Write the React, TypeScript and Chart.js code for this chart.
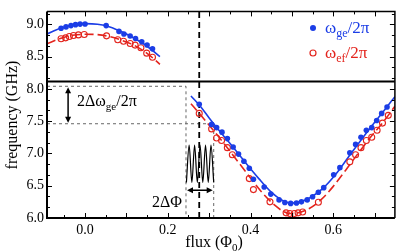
import React, { useEffect, useRef } from "react";
import { Chart, registerables } from "chart.js";
Chart.register(...registerables);

const BLUE = "#1b3de6";
const RED = "#e3241d";
const SERIF = "'Liberation Serif', 'Times New Roman', serif";

// ---- measured data: omega_ge / 2pi (filled blue circles)
const geFlux = [
  -0.058, -0.046, -0.034, -0.023, -0.012, 0.0, 0.051, 0.082, 0.094, 0.109, 0.122, 0.137, 0.15, 0.163,
  0.276, 0.306, 0.318, 0.331, 0.344, 0.358, 0.371, 0.384, 0.397, 0.407, 0.433, 0.449, 0.469, 0.483,
  0.497, 0.511, 0.523, 0.537, 0.55, 0.564, 0.577, 0.601, 0.616, 0.64, 0.654, 0.667, 0.68, 0.693,
  0.705, 0.717, 0.73,
];
const geFreq = [
  8.94, 8.96, 8.98, 8.995, 9.003, 9.006, 8.98, 8.89, 8.85, 8.82, 8.78, 8.73, 8.68, 8.62,
  7.76, 7.45, 7.4, 7.33, 7.23, 7.1, 6.99, 6.88, 6.77, 6.6, 6.48, 6.37, 6.28, 6.24,
  6.226, 6.232, 6.25, 6.28, 6.33, 6.4, 6.47, 6.67, 6.78, 7.01, 7.14, 7.25, 7.36, 7.4,
  7.51, 7.62, 7.72,
];

// ---- measured data: omega_ef / 2pi (open red circles)
const efFlux = [
  -0.058, -0.047, -0.038, -0.028, -0.016, -0.002, 0.052, 0.079, 0.093, 0.109, 0.121, 0.135, 0.149, 0.163,
  0.276, 0.306, 0.318, 0.33, 0.344, 0.356, 0.397, 0.407, 0.447, 0.486, 0.495, 0.506, 0.515, 0.526,
  0.564, 0.64, 0.654, 0.667, 0.68, 0.693, 0.706, 0.719, 0.733,
];
const efFreq = [
  8.776, 8.79, 8.812, 8.827, 8.836, 8.842, 8.821, 8.762, 8.738, 8.702, 8.678, 8.638, 8.553, 8.489,
  7.62, 7.38, 7.24, 7.2, 7.09, 6.98, 6.61, 6.44, 6.25, 6.08, 6.07, 6.07, 6.08, 6.094,
  6.245, 6.87, 6.98, 7.09, 7.2, 7.25, 7.36, 7.47, 7.59,
];

// ---- theory curves
const geFitTopFlux = [-0.092, -0.06, -0.03, 0.0, 0.03, 0.06, 0.09, 0.12, 0.15, 0.181];
const geFitTopFreq = [8.85, 8.94, 8.99, 9.01, 9.0, 8.96, 8.88, 8.78, 8.66, 8.5];
const geFitBotFlux = [0.256, 0.28, 0.3, 0.33, 0.36, 0.39, 0.42, 0.45, 0.475, 0.497, 0.52, 0.545, 0.575, 0.605, 0.635, 0.665, 0.695, 0.72, 0.749];
const geFitBotFreq = [7.89, 7.72, 7.55, 7.31, 7.08, 6.84, 6.61, 6.4, 6.28, 6.23, 6.25, 6.32, 6.46, 6.67, 6.93, 7.19, 7.44, 7.64, 7.88];
const efFitTopFlux = [-0.092, -0.06, -0.03, 0.0, 0.03, 0.06, 0.09, 0.12, 0.15, 0.181];
const efFitTopFreq = [8.7, 8.78, 8.83, 8.845, 8.84, 8.81, 8.75, 8.67, 8.55, 8.38];
const efFitBotFlux = [0.256, 0.28, 0.31, 0.34, 0.37, 0.4, 0.43, 0.46, 0.48, 0.497, 0.515, 0.54, 0.57, 0.6, 0.63, 0.66, 0.69, 0.72, 0.749];
const efFitBotFreq = [7.77, 7.59, 7.36, 7.12, 6.87, 6.62, 6.38, 6.19, 6.1, 6.07, 6.08, 6.14, 6.28, 6.49, 6.74, 7.0, 7.25, 7.48, 7.73];

// ---- schematic flux modulation (wave) vertices
const waveFlux = [0.245, 0.2516, 0.2582, 0.2648, 0.2714, 0.278, 0.2846, 0.2912, 0.2978, 0.3044, 0.311];
const waveFreq = [6.55, 7.13, 6.55, 7.13, 6.55, 7.13, 6.55, 7.13, 6.55, 7.13, 6.55];

// ---- guide values
const X_MIN = -0.092;
const X_MAX = 0.749;
const Y_MIN = 6.0;
const Y_MAX = 9.2;
const breakFreq = 8.116;
const sweetFlux = 0.276;
const fluxLow = 0.244;
const fluxHigh = 0.311;
const freqHigh = 8.04;
const freqLow = 7.46;
const arrowFlux = -0.041;
const arrowFreqH = 6.43;
const xTickLabels = [0.0, 0.2, 0.4, 0.6];
const yTickLabels = [6.0, 6.5, 7.0, 7.5, 8.0, 8.5, 9.0];

const pts = (xs: number[], ys: number[]) => xs.map((x, i) => ({ x, y: ys[i] }));

function drawRich(
  ctx: CanvasRenderingContext2D,
  parts: { t: string; sub?: boolean }[],
  x: number,
  y: number,
  size: number,
  color: string,
  align: "left" | "center" = "left"
) {
  const subSize = Math.round(size * 0.7);
  let w = 0;
  for (const p of parts) {
    ctx.font = `${p.sub ? subSize : size}px ${SERIF}`;
    w += ctx.measureText(p.t).width;
  }
  let cx = align === "center" ? x - w / 2 : x;
  ctx.fillStyle = color;
  ctx.textBaseline = "alphabetic";
  ctx.textAlign = "left";
  for (const p of parts) {
    ctx.font = `${p.sub ? subSize : size}px ${SERIF}`;
    ctx.fillText(p.t, cx, p.sub ? y + size * 0.25 : y);
    cx += ctx.measureText(p.t).width;
  }
}

function arrowHead(ctx: CanvasRenderingContext2D, x: number, y: number, dx: number, dy: number) {
  const L = 6, W = 3;
  const px = -dy, py = dx;
  ctx.beginPath();
  ctx.moveTo(x, y);
  ctx.lineTo(x - dx * L + px * W, y - dy * L + py * W);
  ctx.lineTo(x - dx * L - px * W, y - dy * L - py * W);
  ctx.closePath();
  ctx.fill();
}

export default function App() {
  const ref = useRef<HTMLCanvasElement>(null);
  useEffect(() => {
    document.body.style.margin = "0";
    const canvas = ref.current!;
    const overlay = {
      id: "overlay",
      afterDraw(chart: any) {
        const ctx: CanvasRenderingContext2D = chart.ctx;
        const { left, right, top, bottom } = chart.chartArea;
        const xs = chart.scales.x;
        const ys = chart.scales.y;
        ctx.save();
        // frame
        ctx.strokeStyle = "#000";
        ctx.lineWidth = 1.5;
        ctx.beginPath();
        ctx.moveTo(left, top);
        ctx.lineTo(right, top);
        ctx.lineTo(right, bottom);
        ctx.stroke();
        ctx.lineWidth = 2;
        ctx.beginPath();
        ctx.moveTo(left, top);
        ctx.lineTo(left, bottom);
        ctx.lineTo(right, bottom);
        ctx.stroke();
        // x ticks (inward)
        ctx.lineWidth = 1;
        for (let k = -1; k <= 14; k++) {
          const v = k * 0.05;
          const px = Math.round(xs.getPixelForValue(v)) + 0.5;
          if (px <= left + 1 || px >= right - 1) continue;
          const len = k % 2 === 0 ? 5 : 3;
          ctx.beginPath();
          ctx.moveTo(px, bottom);
          ctx.lineTo(px, bottom - len);
          ctx.moveTo(px, top);
          ctx.lineTo(px, top + len);
          ctx.stroke();
        }
        // y ticks
        for (let k = 0; k <= 19; k++) {
          const v = 6 + k * (0.5 / 3);
          const py = Math.round(ys.getPixelForValue(v)) + 0.5;
          if (py <= top + 1 || py >= bottom - 1) continue;
          const len = k % 3 === 0 ? 5 : 3;
          ctx.beginPath();
          ctx.moveTo(left, py);
          ctx.lineTo(left + len, py);
          ctx.moveTo(right, py);
          ctx.lineTo(right - len, py);
          ctx.stroke();
        }
        // arrows
        ctx.fillStyle = "#000";
        ctx.strokeStyle = "#000";
        ctx.lineWidth = 1.5;
        const ax = xs.getPixelForValue(arrowFlux);
        const ay1 = ys.getPixelForValue(freqHigh);
        const ay2 = ys.getPixelForValue(freqLow);
        ctx.beginPath();
        ctx.moveTo(ax, ay1 + 4);
        ctx.lineTo(ax, ay2 - 4);
        ctx.stroke();
        arrowHead(ctx, ax, ay1 + 1, 0, -1);
        arrowHead(ctx, ax, ay2 - 1, 0, 1);
        const hy = ys.getPixelForValue(arrowFreqH);
        const hx1 = xs.getPixelForValue(fluxLow);
        const hx2 = xs.getPixelForValue(fluxHigh);
        ctx.beginPath();
        ctx.moveTo(hx1 + 4, hy);
        ctx.lineTo(hx2 - 4, hy);
        ctx.stroke();
        arrowHead(ctx, hx1 + 1, hy, -1, 0);
        arrowHead(ctx, hx2 - 1, hy, 1, 0);
        // annotation texts
        drawRich(ctx, [{ t: "2Δω" }, { t: "ge", sub: true }, { t: "/2π" }], 77, 106, 16, "#000");
        drawRich(ctx, [{ t: "2ΔΦ" }], 167, 207, 16, "#000", "center");
        // legend
        ctx.fillStyle = BLUE;
        ctx.beginPath();
        ctx.arc(313, 28, 3, 0, Math.PI * 2);
        ctx.fill();
        ctx.strokeStyle = RED;
        ctx.lineWidth = 1.2;
        ctx.beginPath();
        ctx.arc(313, 53, 3, 0, Math.PI * 2);
        ctx.stroke();
        drawRich(ctx, [{ t: "ω" }, { t: "ge", sub: true }, { t: "/2π" }], 325, 33, 17, BLUE);
        drawRich(ctx, [{ t: "ω" }, { t: "ef", sub: true }, { t: "/2π" }], 325, 58, 17, RED);
        // axis titles
        drawRich(ctx, [{ t: "flux (Φ" }, { t: "0", sub: true }, { t: ")" }], 214, 247, 16, "#000", "center");
        ctx.save();
        ctx.translate(17, 115);
        ctx.rotate(-Math.PI / 2);
        drawRich(ctx, [{ t: "frequency (GHz)" }], 0, 0, 16, "#000", "center");
        ctx.restore();
        ctx.restore();
      },
    };

    const lineDs = (data: any, color: string, width: number, dash: number[] = [], smooth = true) => ({
      type: "line" as const,
      data,
      showLine: true,
      borderColor: color,
      backgroundColor: color,
      borderWidth: width,
      borderDash: dash,
      pointRadius: 0,
      pointHoverRadius: 0,
      fill: false,
      tension: 0,
      cubicInterpolationMode: smooth ? ("monotone" as const) : ("default" as const),
    });

    const chart = new Chart(canvas, {
      type: "scatter",
      data: {
        datasets: [
          {
            data: pts(geFlux, geFreq),
            pointRadius: 2.8,
            pointBackgroundColor: BLUE,
            pointBorderColor: BLUE,
            pointBorderWidth: 0,
            showLine: false,
          } as any,
          {
            data: pts(efFlux, efFreq),
            pointRadius: 3,
            pointBackgroundColor: "rgba(255,255,255,0)",
            pointBorderColor: RED,
            pointBorderWidth: 1.1,
            showLine: false,
          } as any,
          lineDs(pts(geFitTopFlux, geFitTopFreq), BLUE, 1.6),
          lineDs(pts(geFitBotFlux, geFitBotFreq), BLUE, 1.6),
          lineDs(pts(efFitTopFlux, efFitTopFreq), RED, 1.6, [9, 4]),
          lineDs(pts(efFitBotFlux, efFitBotFreq), RED, 1.6, [9, 4]),
          lineDs(pts(waveFlux, waveFreq), "#000", 1.2),
          lineDs([{ x: X_MIN, y: breakFreq }, { x: X_MAX, y: breakFreq }], "#000", 2, [], false),
          lineDs([{ x: sweetFlux, y: Y_MIN }, { x: sweetFlux, y: Y_MAX }], "#000", 1.8, [6, 4], false),
          lineDs(
            [{ x: X_MIN, y: freqHigh }, { x: fluxLow, y: freqHigh }, { x: fluxLow, y: Y_MIN }],
            "#666",
            1,
            [3, 3],
            false
          ),
          lineDs(
            [{ x: X_MIN, y: freqLow }, { x: fluxHigh, y: freqLow }, { x: fluxHigh, y: Y_MIN }],
            "#666",
            1,
            [3, 3],
            false
          ),
        ] as any,
      },
      options: {
        animation: false,
        responsive: false,
        devicePixelRatio: 1,
        layout: { padding: { top: 3, right: 5, left: 0, bottom: 0 } },
        plugins: { legend: { display: false }, tooltip: { enabled: false } },
        events: [],
        scales: {
          x: {
            type: "linear",
            min: X_MIN,
            max: X_MAX,
            grid: { display: false, drawTicks: false },
            border: { display: false },
            afterBuildTicks: (s: any) => {
              s.ticks = xTickLabels.map((v) => ({ value: v }));
            },
            afterFit: (s: any) => {
              s.height = 34;
            },
            ticks: {
              padding: 4,
              color: "#000",
              font: { family: SERIF, size: 14 },
              maxRotation: 0,
              callback: (v: any) => Number(v).toFixed(1),
            },
          },
          y: {
            type: "linear",
            min: Y_MIN,
            max: Y_MAX,
            grid: { display: false, drawTicks: false },
            border: { display: false },
            afterBuildTicks: (s: any) => {
              s.ticks = yTickLabels.map((v) => ({ value: v }));
            },
            afterFit: (s: any) => {
              s.width = 47;
            },
            ticks: {
              padding: 3,
              color: "#000",
              font: { family: SERIF, size: 14 },
              callback: (v: any) => Number(v).toFixed(1),
            },
          },
        },
      } as any,
      plugins: [overlay],
    });
    return () => chart.destroy();
  }, []);
  return (
    <div style={{ width: 400, height: 252 }}>
      <canvas ref={ref} width={400} height={252} style={{ display: "block" }} />
    </div>
  );
}
